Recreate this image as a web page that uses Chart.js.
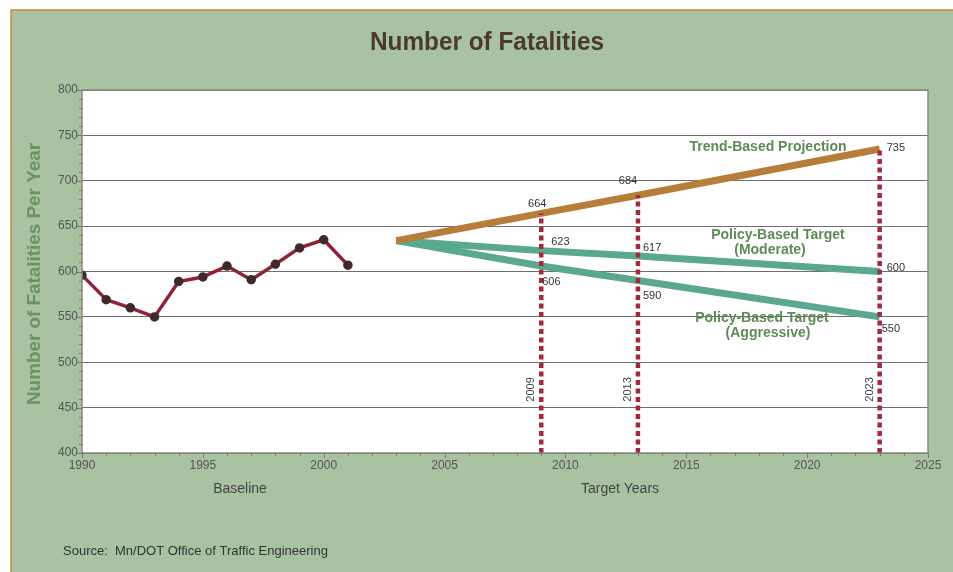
<!DOCTYPE html>
<html>
<head>
<meta charset="utf-8">
<script src="https://cdn.jsdelivr.net/npm/chart.js@4/dist/chart.umd.min.js"></script>
<style>
  body { margin: 0; background: #fff; }
  canvas { display: block; }
</style>
</head>
<body>
<canvas id="myChart" width="953" height="572"></canvas>
<script>
// baseline counts
const baseYears = [1990, 1991, 1992, 1993, 1994, 1995, 1996, 1997, 1998, 1999, 2000, 2001];
const baseValues = [596, 569, 560, 550, 589, 594, 606, 591, 608, 626, 635, 607];

// projections / targets
const projYears = [2003, 2009, 2013, 2023];
const trendValues = [634, 664, 684, 735];
const moderateValues = [634, 623, 617, 600];
const aggressiveValues = [634, 606, 590, 550];
const targetYears = [2009, 2013, 2023];

const yMin = 400, yMax = 800, yStep = 50;
const xMin = 1990, xMax = 2025, xStep = 5;

const pts = (xs, ys) => xs.map((x, i) => ({ x: x, y: ys[i] }));

// vertical dashed marker for each target year, up to the trend value
const markerSets = targetYears.map((yr) => {
  const top = trendValues[projYears.indexOf(yr)];
  return {
    data: [{ x: yr, y: yMin }, { x: yr, y: top }],
    borderColor: "#a3293f",
    borderWidth: 4.5,
    borderDash: [5, 3.5],
    pointRadius: 0,
    order: 0
  };
});

const datasets = markerSets.concat([
  {
    data: pts(baseYears, baseValues),
    borderColor: "#8f2335",
    borderWidth: 3.5,
    pointRadius: 3,
    pointBackgroundColor: "#3d2b2b",
    pointBorderColor: "#3d2b2b",
    order: 1
  },
  {
    data: pts(projYears, trendValues),
    borderColor: "#b67e3a",
    borderWidth: 7,
    pointRadius: 0,
    order: 2
  },
  {
    data: pts(projYears, moderateValues),
    borderColor: "#5ba890",
    borderWidth: 7,
    pointRadius: 0,
    order: 3
  },
  {
    data: pts(projYears, aggressiveValues),
    borderColor: "#5ba890",
    borderWidth: 7,
    pointRadius: 0,
    order: 3
  }
]);

// value labels next to the target points: [seriesValues, align, dx, dy]
const valueLabels = [
  [trendValues, "center", -4, -9],
  [trendValues, "center", -10, -14],
  [trendValues, "left", 7, -1],
  [moderateValues, "left", 10, -9],
  [moderateValues, "left", 5, -8],
  [moderateValues, "left", 7, -4],
  [aggressiveValues, "left", 1, 16],
  [aggressiveValues, "left", 5, 15],
  [aggressiveValues, "left", 2, 12]
];

// draw text squeezed to a given width (narrow face look-alike)
function narrowText(ctx, text, x, y, width) {
  const w = ctx.measureText(text).width;
  ctx.save();
  ctx.translate(x, y);
  ctx.scale(width / w, 1);
  ctx.fillText(text, 0, 0);
  ctx.restore();
}

const decor = {
  id: "decor",
  beforeDraw(chart) {
    const ctx = chart.ctx;
    const a = chart.chartArea;
    ctx.save();
    ctx.fillStyle = "#fff";
    ctx.fillRect(0, 0, chart.width, chart.height);
    ctx.fillStyle = "#a9c2a1";
    ctx.fillRect(11, 10, chart.width - 11, chart.height - 10);
    ctx.strokeStyle = "#c98a3c";
    ctx.lineWidth = 1.5;
    ctx.beginPath();
    ctx.moveTo(11, chart.height);
    ctx.lineTo(11, 10);
    ctx.lineTo(chart.width, 10);
    ctx.stroke();
    ctx.fillStyle = "#fff";
    ctx.fillRect(a.left, a.top, a.right - a.left, a.bottom - a.top);
    ctx.restore();
  },
  afterDraw(chart) {
    const ctx = chart.ctx;
    const a = chart.chartArea;
    const xs = chart.scales.x, ys = chart.scales.y;
    ctx.save();

    // plot frame
    ctx.strokeStyle = "#8a8a80";
    ctx.lineWidth = 1.5;
    ctx.strokeRect(a.left, a.top, a.right - a.left, a.bottom - a.top);

    // minor ticks
    ctx.strokeStyle = "#777";
    ctx.lineWidth = 1;
    ctx.beginPath();
    for (let v = yMin; v <= yMax; v += 10) {
      const y = Math.round(ys.getPixelForValue(v)) + 0.5;
      const len = v % yStep === 0 ? 5 : 3;
      ctx.moveTo(a.left - len, y);
      ctx.lineTo(a.left, y);
    }
    for (let v = xMin; v <= xMax; v += 1) {
      const x = Math.round(xs.getPixelForValue(v)) + 0.5;
      const len = v % xStep === 0 ? 5 : 3;
      ctx.moveTo(x, a.bottom);
      ctx.lineTo(x, a.bottom + len);
    }
    ctx.stroke();

    // title
    ctx.fillStyle = "#4b3b2b";
    ctx.textAlign = "center";
    ctx.textBaseline = "middle";
    ctx.font = "bold 25px 'Liberation Sans', Arial, sans-serif";
    narrowText(ctx, "Number of Fatalities", 487, 43, 234);

    // y axis title
    ctx.save();
    ctx.translate(35, 274);
    ctx.rotate(-Math.PI / 2);
    ctx.fillStyle = "#6a9262";
    ctx.font = "bold 18px 'Liberation Sans', Arial, sans-serif";
    narrowText(ctx, "Number of Fatalities Per Year", 0, 0, 262);
    ctx.restore();

    // x group labels
    ctx.fillStyle = "#444";
    ctx.font = "14px 'Liberation Sans', Arial, sans-serif";
    ctx.fillText("Baseline", 240, 489);
    ctx.fillText("Target Years", 620, 489);

    ctx.textAlign = "left";
    ctx.fillStyle = "#333";
    ctx.font = "13px 'Liberation Sans', Arial, sans-serif";
    ctx.fillText("Source:  Mn/DOT Office of Traffic Engineering", 63, 551);

    // series names
    ctx.textAlign = "center";
    ctx.fillStyle = "#5d8a55";
    ctx.font = "bold 14px 'Liberation Sans', Arial, sans-serif";
    ctx.fillText("Trend-Based Projection", 768, 147);
    ctx.fillText("Policy-Based Target", 778, 235);
    ctx.fillText("(Moderate)", 770, 250);
    ctx.fillText("Policy-Based Target", 762, 318);
    ctx.fillText("(Aggressive)", 768, 333);

    // value labels
    ctx.fillStyle = "#333";
    ctx.font = "11px 'Liberation Sans', Arial, sans-serif";
    valueLabels.forEach(([vals, align, dx, dy], i) => {
      const yr = targetYears[i % 3];
      const v = vals[projYears.indexOf(yr)];
      ctx.textAlign = align;
      ctx.fillText(String(v), xs.getPixelForValue(yr) + dx, ys.getPixelForValue(v) + dy);
    });

    // rotated year labels beside the markers
    ctx.fillStyle = "#444";
    targetYears.forEach((yr) => {
      ctx.save();
      ctx.translate(xs.getPixelForValue(yr) - 10, ys.getPixelForValue(470));
      ctx.rotate(-Math.PI / 2);
      ctx.textAlign = "center";
      ctx.fillText(String(yr), 0, 0);
      ctx.restore();
    });

    ctx.restore();
  }
};

new Chart(document.getElementById("myChart"), {
  type: "line",
  data: { datasets: datasets },
  options: {
    responsive: false,
    animation: false,
    devicePixelRatio: 1,
    layout: { padding: { left: 0, top: 90, right: 25, bottom: 89 } },
    plugins: { legend: { display: false }, tooltip: { enabled: false } },
    elements: { line: { tension: 0, borderCapStyle: "butt", borderJoinStyle: "round" } },
    scales: {
      x: {
        type: "linear",
        min: xMin,
        max: xMax,
        ticks: { stepSize: xStep, color: "#555", font: { size: 12, family: "'Liberation Sans', Arial" }, padding: 5, callback: (v) => String(v) },
        grid: { display: false, drawTicks: false },
        border: { display: false },
        afterFit: (s) => { s.height = 30; }
      },
      y: {
        min: yMin,
        max: yMax,
        ticks: { stepSize: yStep, color: "#555", font: { size: 12, family: "'Liberation Sans', Arial" }, padding: 4 },
        grid: { color: "#6e6e6e", lineWidth: 1, drawTicks: false },
        border: { display: false },
        afterFit: (s) => { s.width = 82; }
      }
    }
  },
  plugins: [decor]
});
</script>
</body>
</html>
